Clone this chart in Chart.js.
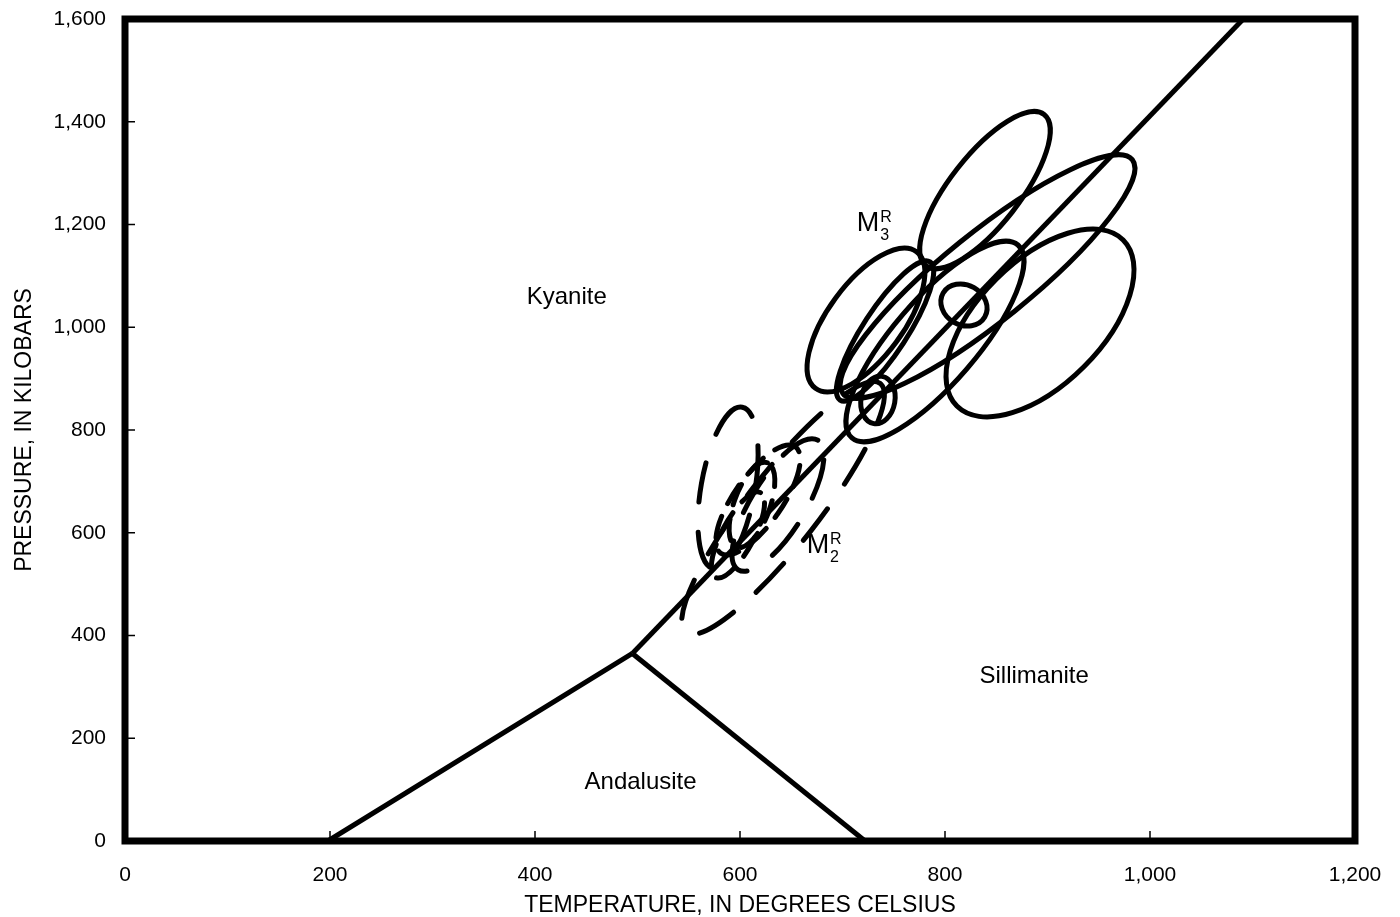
<!DOCTYPE html>
<html><head><meta charset="utf-8">
<script src="https://cdn.jsdelivr.net/npm/chart.js@4.4.1/dist/chart.umd.min.js"></script>
<style>html,body{margin:0;padding:0;background:#fff;}canvas{display:block;}</style>
</head><body>
<canvas id="c" width="1400" height="917"></canvas>
<script>
// ---- Data (temperature in °C, pressure as labelled) ----
const xTickValues = [0, 200, 400, 600, 800, 1000, 1200];
const yTickValues = [0, 200, 400, 600, 800, 1000, 1200, 1400, 1600];

const andalusiteKyanite     = [[198, 0], [495, 365]];
const andalusiteSillimanite = [[495, 365], [722, 0]];
const kyaniteSillimanite    = [[495, 365], [1091, 1600]];

// Ellipses: [centre T, centre P, semi-axis 1 (dT, dP), semi-axis 2 (dT, dP)]
const m3Ellipses = [
  [839.0, 1267.0,  57.7, 147.2, -26.9,  41.9],
  [841.5, 1098.8, 141.2, 227.4, -27.0,  66.6],
  [892.7, 1008.3,  81.1, 161.7, -42.8,  85.3],
  [722.9, 1014.1,  49.3, 133.0, -29.4,  43.4],
  [790.2,  972.3,  81.0, 187.8, -31.1,  53.3],
  [741.5,  992.7,  43.9, 134.4, -18.0,  23.4],
  [818.5, 1043.3, -20.3,  23.4,  -9.8, -33.7],
  [734.6,  858.4,   4.1,  46.0, -16.3,   5.7]
];
const m2Ellipses = [
  [642.0, 648.2, 94.9, 242.3, -27.7, 43.1],
  [637.1, 654.0, 38.8, 126.1, -22.4, 27.5],
  [588.3, 687.1, 13.9, 157.2, -25.9,  9.1]
];
const m2InnerEllipses = [
  [611.7, 654.0, 15.0,  82.3, -16.5, 12.0],
  [598.0, 595.6, 22.0,  82.5, -13.8, 14.6],
  [617.6, 663.7, 36.4, 103.6, -19.2, 26.8]
];

const fieldNames = ['Kyanite', 'Sillimanite', 'Andalusite'];
const fieldT = [431, 887, 503];
const fieldP = [1059, 321, 115];

const eventNames = ['M3', 'M2'];
const eventSub = ['3', '2'];
const eventT = [714, 665];
const eventP = [1187, 561];

const FONT = "'Liberation Sans', Arial, Helvetica, sans-serif";
Chart.defaults.font.family = FONT;
Chart.defaults.color = '#000';

const toXY = arr => arr.map(p => ({x: p[0], y: p[1]}));

const overlay = {
  id: 'overlay',
  afterDatasetsDraw(chart) {
    const {ctx, chartArea: ca, scales: {x, y}} = chart;
    const drawEllipse = (e) => {
      const cx = x.getPixelForValue(e[0]), cy = y.getPixelForValue(e[1]);
      const ux = x.getPixelForValue(e[0] + e[2]) - cx, uy = y.getPixelForValue(e[1] + e[3]) - cy;
      const vx = x.getPixelForValue(e[0] + e[4]) - cx, vy = y.getPixelForValue(e[1] + e[5]) - cy;
      ctx.save();
      ctx.transform(ux, uy, vx, vy, cx, cy);
      ctx.beginPath();
      ctx.arc(0, 0, 1, 0, Math.PI * 2);
      ctx.restore();
      ctx.stroke();
    };
    ctx.save();
    ctx.beginPath();
    ctx.rect(ca.left, ca.top, ca.right - ca.left, ca.bottom - ca.top);
    ctx.clip();
    ctx.strokeStyle = '#000';
    ctx.lineWidth = 5;
    ctx.lineCap = 'round';
    ctx.setLineDash([]);
    m3Ellipses.forEach(drawEllipse);
    ctx.setLineDash([40, 30]);
    m2Ellipses.forEach(drawEllipse);
    ctx.setLineDash([22, 14]);
    m2InnerEllipses.forEach(drawEllipse);
    ctx.setLineDash([]);
    ctx.restore();

    // field labels
    ctx.save();
    ctx.fillStyle = '#000';
    ctx.font = '24px ' + FONT;
    ctx.textAlign = 'center';
    ctx.textBaseline = 'middle';
    fieldNames.forEach((n, i) => ctx.fillText(n, x.getPixelForValue(fieldT[i]), y.getPixelForValue(fieldP[i])));
    // event labels M with sup R and subscript
    eventNames.forEach((n, i) => {
      const px = x.getPixelForValue(eventT[i]), py = y.getPixelForValue(eventP[i]);
      ctx.textAlign = 'left';
      ctx.textBaseline = 'alphabetic';
      ctx.font = '27px ' + FONT;
      ctx.fillText('M', px, py);
      const w = ctx.measureText('M').width;
      ctx.font = '16px ' + FONT;
      ctx.fillText('R', px + w + 1, py - 9);
      ctx.fillText(eventSub[i], px + w + 1, py + 9);
    });
    ctx.restore();

    // frame and inward ticks
    ctx.save();
    ctx.strokeStyle = '#000';
    ctx.lineWidth = 1.5;
    ctx.beginPath();
    xTickValues.slice(1, -1).forEach(v => {
      const px = x.getPixelForValue(v);
      ctx.moveTo(px, ca.bottom); ctx.lineTo(px, ca.bottom - 10);
    });
    yTickValues.slice(1, -1).forEach(v => {
      const py = y.getPixelForValue(v);
      ctx.moveTo(ca.left, py); ctx.lineTo(ca.left + 10, py);
    });
    ctx.stroke();
    ctx.lineWidth = 7;
    ctx.strokeRect(ca.left, ca.top, ca.right - ca.left, ca.bottom - ca.top);
    ctx.restore();
  }
};

const lineStyle = {showLine: true, borderColor: '#000', borderWidth: 5, pointRadius: 0, fill: false, tension: 0, borderCapStyle: 'butt'};

new Chart(document.getElementById('c'), {
  type: 'scatter',
  data: {
    datasets: [
      Object.assign({label: 'Andalusite–Kyanite', data: toXY(andalusiteKyanite)}, lineStyle),
      Object.assign({label: 'Andalusite–Sillimanite', data: toXY(andalusiteSillimanite)}, lineStyle),
      Object.assign({label: 'Kyanite–Sillimanite', data: toXY(kyaniteSillimanite)}, lineStyle)
    ]
  },
  options: {
    responsive: false,
    animation: false,
    devicePixelRatio: 1,
    layout: {padding: {top: 19, right: 45, left: 0, bottom: 0}},
    plugins: {legend: {display: false}, tooltip: {enabled: false}},
    scales: {
      x: {
        type: 'linear', min: 0, max: 1200,
        afterBuildTicks: s => { s.ticks = xTickValues.map(v => ({value: v})); },
        afterFit: s => { s.height = 76; s.paddingLeft = 0; s.paddingRight = 0; },
        grid: {display: true, drawOnChartArea: false, drawTicks: false},
        border: {display: false},
        ticks: {padding: 22, font: {size: 21}, color: '#000', maxRotation: 0},
        title: {display: true, text: 'TEMPERATURE, IN DEGREES CELSIUS', font: {size: 23, lineHeight: 1}, padding: {top: 0, bottom: 0}, color: '#000'}
      },
      y: {
        type: 'linear', min: 0, max: 1600,
        afterBuildTicks: s => { s.ticks = yTickValues.map(v => ({value: v})); },
        afterFit: s => { s.width = 125; s.paddingTop = 0; s.paddingBottom = 0; },
        grid: {display: true, drawOnChartArea: false, drawTicks: false},
        border: {display: false},
        ticks: {padding: 19, font: {size: 21}, color: '#000'},
        title: {display: true, text: 'PRESSURE, IN KILOBARS', font: {size: 23, lineHeight: 1}, padding: {top: 13, bottom: 0}, color: '#000'}
      }
    }
  },
  plugins: [overlay]
});
</script>
</body></html>
